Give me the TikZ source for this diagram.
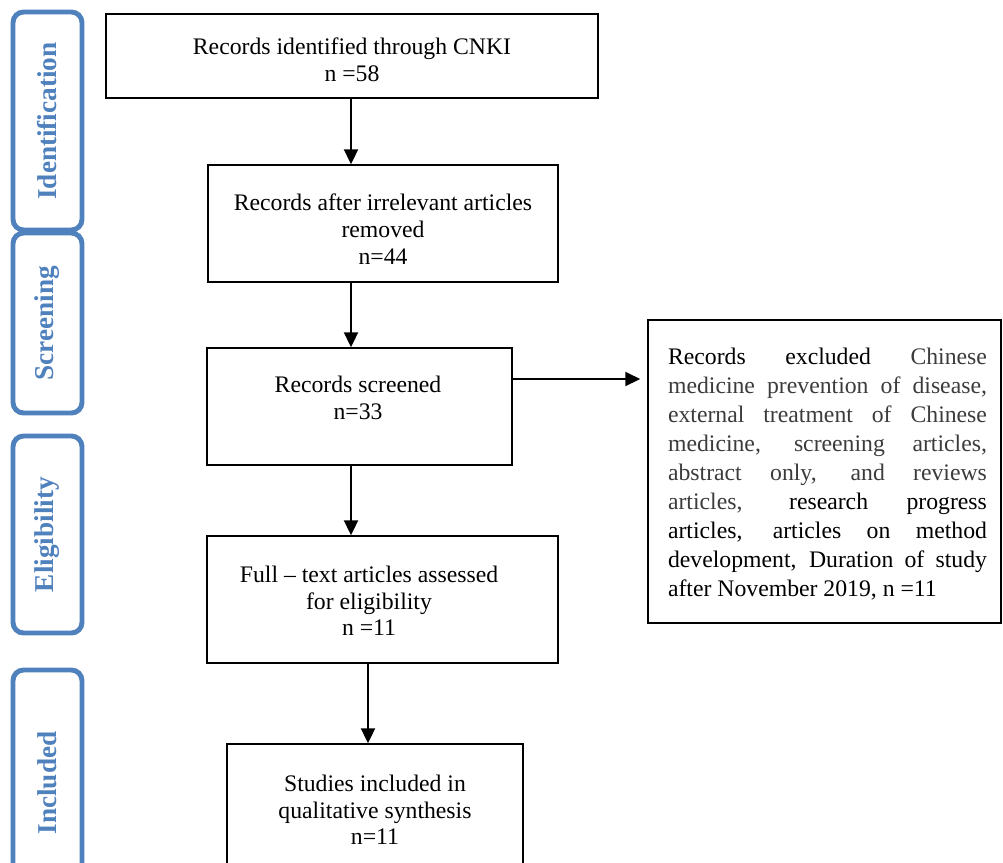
\documentclass[tikz,border=0pt]{standalone}
\usepackage{fontspec}
\setmainfont{Liberation Serif}
\usetikzlibrary{arrows.meta,fit,calc}
\definecolor{labblue}{HTML}{4F81BD}
\definecolor{soft}{HTML}{3C3C3C}
\begin{document}
\begin{tikzpicture}[x=0.02cm,y=-0.02cm,
  box/.style={draw=black,line width=0.9pt,inner sep=0pt,align=center,
    font=\fontsize{13.5pt}{15.2pt}\selectfont},
  labbox/.style={draw=labblue,line width=2.8pt,rounded corners=6pt,inner sep=0pt},
  labtext/.style={rotate=90,text=labblue,font=\fontsize{15.5pt}{17pt}\selectfont\bfseries},
  arr/.style={line width=1.2pt,-{Triangle[length=8.5pt,width=8pt]}},
  btext/.style={align=center,font=\fontsize{13.5pt}{15.2pt}\selectfont}]
\clip (0,0) rectangle (1003,862);
\fill[white] (0,0) rectangle (1003,862);
% side labels
\node[labbox,fit={(13,12) (82,230)}] (lid) {};
\node[labtext] (tid) at (lid.center) {Identification};
\node[labbox,fit={(13,233) (82,413)}] (lsc) {};
\node[labtext] (tsc) at (lsc.center) {Screening};
\node[labbox,fit={(13,436) (82,633)}] (lel) {};
\node[labtext] (tel) at (lel.center) {Eligibility};
\node[labbox,fit={(13,670) (82,920)}] (lin) {};
\node[labtext] (tin) at (47.5,783) {Included};
% boxes
\node[box,fit={(106,14) (598,98)}] (b1) {};
\node[btext] at (352,60) {Records identified through CNKI\\n =58};
\node[box,fit={(208,165) (558,282)}] (b2) {};
\node[btext] at (383,229) {Records after irrelevant articles\\removed\\n=44};
\node[box,fit={(207,348) (512,465)}] (b3) {};
\node[btext] at (358,398) {Records screened\\n=33};
\node[box,fit={(207,536) (558,663)}] (b4) {};
\node[btext] at (369,601) {Full -- text articles assessed\\for eligibility\\n =11};
\node[box,fit={(227,744) (523,880)}] (b5) {};
\node[btext] at (375,810) {Studies included in\\qualitative synthesis\\n=11};
\node[box,fit={(648,320) (1001,623)}] (ex) {};
\node[align=justify,text width=181.5pt,inner sep=0pt,
  font=\fontsize{13.5pt}{16.5pt}\selectfont] (ext) at (827.5,474) {%
  Records excluded \textcolor{soft}{Chinese}\linebreak
  \textcolor{soft}{medicine prevention of disease,}\linebreak
  \textcolor{soft}{external treatment of Chinese}\linebreak
  \textcolor{soft}{medicine, screening articles,}\linebreak
  \textcolor{soft}{abstract only, and reviews}\linebreak
  \textcolor{soft}{articles,} research progress\linebreak
  articles, articles on method\linebreak
  development, Duration of study\linebreak
  after November 2019, n =11};
% connectors
\coordinate (c1) at (351,0);
\coordinate (c4) at (368,0);
\coordinate (cy) at (0,379);
\draw[arr] (b1.south -| c1) -- (b2.north -| c1);
\draw[arr] (b2.south -| c1) -- (b3.north -| c1);
\draw[arr] (b3.south -| c1) -- (b4.north -| c1);
\draw[arr] (b4.south -| c4) -- (b5.north -| c4);
\draw[arr,shorten >=4pt] (b3.east |- cy) -- (ex.west |- cy);
\end{tikzpicture}
\end{document}
